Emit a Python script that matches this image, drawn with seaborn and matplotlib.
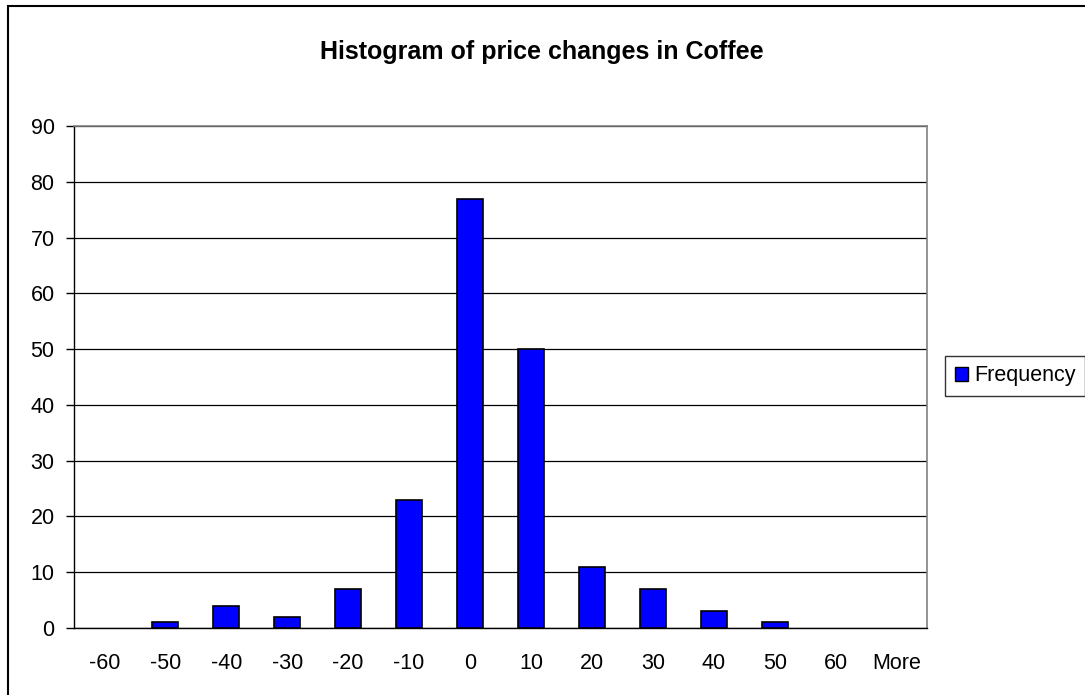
import numpy as np
import pandas as pd
import matplotlib
matplotlib.use('Agg')
import matplotlib.pyplot as plt
import seaborn as sns
from matplotlib.patches import Rectangle, Patch

bins = ['-60', '-50', '-40', '-30', '-20', '-10', '0', '10', '20', '30', '40', '50', '60', 'More']
frequency = [0, 1, 4, 2, 7, 23, 77, 50, 11, 7, 3, 1, 0, 0]
y_ticks = np.arange(0, 91, 10)

df = pd.DataFrame({'Bin': bins, 'Frequency': frequency})

sns.set_style('white')
plt.rcParams['font.family'] = ['Liberation Sans', 'DejaVu Sans']
plt.rcParams['text.color'] = 'black'
plt.rcParams['xtick.color'] = 'black'
plt.rcParams['ytick.color'] = 'black'

fig = plt.figure(figsize=(10.85, 6.95), dpi=100)
ax = fig.add_axes([74 / 1085, 1 - 628 / 695, 853 / 1085, 502 / 695])

sns.barplot(data=df, x='Bin', y='Frequency', color='#0000FF', width=0.43,
            edgecolor='black', linewidth=1.2, saturation=1, ax=ax, zorder=3)
# empty bins draw nothing
for bar in ax.patches:
    if bar.get_height() == 0:
        bar.set_linewidth(0)

ax.set_xlim(-0.5, len(bins) - 0.5)
ax.set_ylim(0, 90)
ax.set_yticks(y_ticks)
ax.set_yticklabels([str(v) for v in y_ticks], fontsize=15.5)
ax.yaxis.grid(True, color='black', linewidth=0.9, zorder=0)
ax.set_axisbelow(True)

ax.set_xticks(range(len(bins)))
ax.set_xticklabels(bins, fontsize=15.5)
ax.set_xticks(np.arange(-0.5, len(bins), 1), minor=True)
ax.tick_params(axis='x', which='major', length=0, pad=18)
ax.tick_params(axis='x', which='minor', length=6, width=1, color='black', direction='out')
ax.tick_params(axis='y', length=6, width=1, color='black', direction='out', pad=8, left=True)
ax.set_xlabel('')
ax.set_ylabel('')

for side in ['top', 'right']:
    ax.spines[side].set_color('#808080')
    ax.spines[side].set_linewidth(1.2)
for side in ['left', 'bottom']:
    ax.spines[side].set_color('black')
    ax.spines[side].set_linewidth(1)

fig.text(542 / 1085, 1 - 52 / 695, 'Histogram of price changes in Coffee',
         ha='center', va='center', fontsize=18, fontweight='bold')

fig.legend(handles=[Patch(facecolor='#0000FF', edgecolor='black', label='Frequency')],
           loc='center left', bbox_to_anchor=(945 / 1085, 1 - 376 / 695),
           borderaxespad=0, fontsize=15.5, frameon=True, fancybox=False, edgecolor='black',
           handlelength=0.6, handleheight=0.6, handletextpad=0.3, borderpad=0.45)

fig.patches.append(Rectangle((8 / 1085, -0.01), 1.02, 1 - 6 / 695 + 0.01,
                             transform=fig.transFigure, fill=False,
                             edgecolor='black', linewidth=1.5))

fig.savefig('out.png', dpi=100)
